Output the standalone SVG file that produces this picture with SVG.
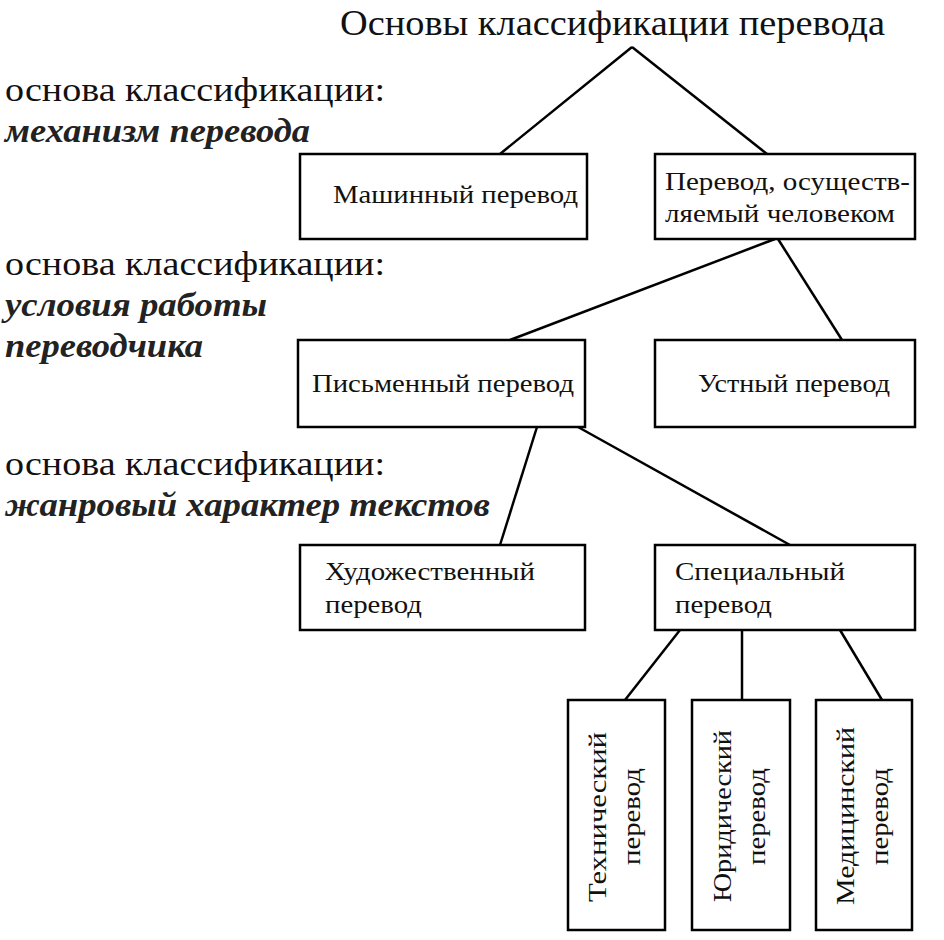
<svg xmlns="http://www.w3.org/2000/svg" width="944" height="940" viewBox="0 0 944 940">
<style>
.b{fill:#fff;stroke:#000;stroke-width:2.5}
.t{font-family:"Liberation Serif",serif;font-size:26px;fill:#111}
.h{font-family:"Liberation Serif",serif;font-size:35px;fill:#111}
.l{font-family:"Liberation Serif",serif;font-size:33px;fill:#111}
.i{font-family:"Liberation Serif",serif;font-size:33px;font-style:italic;font-weight:bold;fill:#222}
#c line{stroke:#000;stroke-width:2.5}
</style>
<rect width="944" height="940" fill="#fff"/>
<text class="h" x="340" y="35" textLength="545" lengthAdjust="spacingAndGlyphs">Основы классификации перевода</text>
<text class="l" x="5" y="101" textLength="380" lengthAdjust="spacingAndGlyphs">основа классификации:</text>
<text class="i" x="5" y="142" textLength="305" lengthAdjust="spacingAndGlyphs">механизм перевода</text>
<text class="l" x="5" y="275" textLength="380" lengthAdjust="spacingAndGlyphs">основа классификации:</text>
<text class="i" x="5" y="316" textLength="262" lengthAdjust="spacingAndGlyphs">условия работы</text>
<text class="i" x="5" y="357" textLength="198" lengthAdjust="spacingAndGlyphs">переводчика</text>
<text class="l" x="5" y="475" textLength="380" lengthAdjust="spacingAndGlyphs">основа классификации:</text>
<text class="i" x="5" y="516" textLength="485" lengthAdjust="spacingAndGlyphs">жанровый характер текстов</text>
<g id="c">
<line x1="632" y1="47" x2="500" y2="154"/>
<line x1="632" y1="47" x2="767" y2="154"/>
<line x1="775" y1="239" x2="510" y2="340"/>
<line x1="778" y1="239" x2="842" y2="340"/>
<line x1="537" y1="427" x2="500" y2="545"/>
<line x1="578" y1="427" x2="790" y2="545"/>
<line x1="680" y1="630" x2="625" y2="700"/>
<line x1="742" y1="630" x2="742" y2="700"/>
<line x1="840" y1="630" x2="882" y2="700"/>
</g>
<g id="n1"><rect class="b" x="300" y="154" width="287" height="85"/><text class="t" x="333" y="203" textLength="245" lengthAdjust="spacingAndGlyphs">Машинный перевод</text></g>
<g id="n2"><rect class="b" x="655" y="154" width="260" height="85"/><text class="t" x="665" y="190" textLength="245" lengthAdjust="spacingAndGlyphs">Перевод, осуществ-</text><text class="t" x="665" y="222" textLength="230" lengthAdjust="spacingAndGlyphs">ляемый человеком</text></g>
<g id="n3"><rect class="b" x="298" y="340" width="287" height="87"/><text class="t" x="312" y="392" textLength="262" lengthAdjust="spacingAndGlyphs">Письменный перевод</text></g>
<g id="n4"><rect class="b" x="655" y="340" width="260" height="87"/><text class="t" x="698" y="392" textLength="192" lengthAdjust="spacingAndGlyphs">Устный перевод</text></g>
<g id="n5"><rect class="b" x="300" y="545" width="285" height="85"/><text class="t" x="325" y="580" textLength="210" lengthAdjust="spacingAndGlyphs">Художественный</text><text class="t" x="325" y="613" textLength="97" lengthAdjust="spacingAndGlyphs">перевод</text></g>
<g id="n6"><rect class="b" x="655" y="545" width="260" height="85"/><text class="t" x="675" y="580" textLength="170" lengthAdjust="spacingAndGlyphs">Специальный</text><text class="t" x="675" y="613" textLength="97" lengthAdjust="spacingAndGlyphs">перевод</text></g>
<g id="n7"><rect class="b" x="568" y="700" width="97" height="230"/><text class="t" transform="translate(606,902) rotate(-90)" textLength="170" lengthAdjust="spacingAndGlyphs">Технический</text><text class="t" transform="translate(640,865) rotate(-90)" textLength="97" lengthAdjust="spacingAndGlyphs">перевод</text></g>
<g id="n8"><rect class="b" x="692" y="700" width="98" height="230"/><text class="t" transform="translate(731,902) rotate(-90)" textLength="172" lengthAdjust="spacingAndGlyphs">Юридический</text><text class="t" transform="translate(765,865) rotate(-90)" textLength="97" lengthAdjust="spacingAndGlyphs">перевод</text></g>
<g id="n9"><rect class="b" x="816" y="700" width="96" height="230"/><text class="t" transform="translate(854,905) rotate(-90)" textLength="178" lengthAdjust="spacingAndGlyphs">Медицинский</text><text class="t" transform="translate(888,865) rotate(-90)" textLength="97" lengthAdjust="spacingAndGlyphs">перевод</text></g>
</svg>
